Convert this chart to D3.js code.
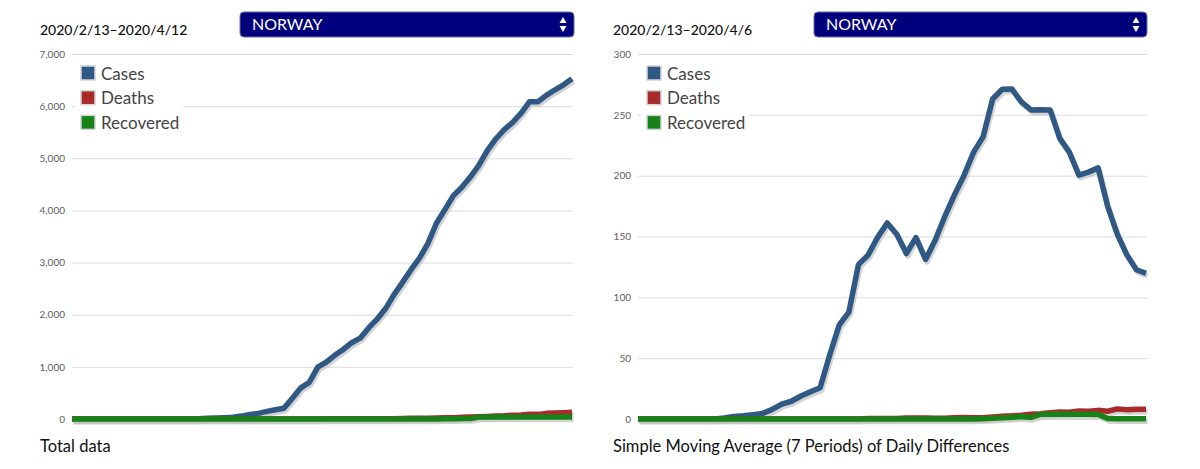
<!DOCTYPE html>
<html>
<head>
<meta charset="utf-8">
<script src="https://cdn.jsdelivr.net/npm/d3@7"></script>
<style>
  html, body { margin: 0; padding: 0; background: #fff; }
  svg { display: block; font-family: Lato, "Open Sans", sans-serif; }
</style>
</head>
<body>
<script>
const SERIES = ['Cases', 'Deaths', 'Recovered'];
const COLORS = ['#2f5884', '#a82a2a', '#178217'];

// cumulative totals, 2020/2/13 .. 2020/4/12
const totalCases = [0, 0, 0, 0, 0, 0, 0, 0, 0, 0, 0, 0, 0,
  1, 1, 6, 15, 19, 25, 32, 56, 87, 108, 147, 176, 205, 400, 598, 702, 996,
  1090, 1221, 1333, 1463, 1550, 1746, 1914, 2118, 2385, 2621, 2863, 3084,
  3369, 3755, 4015, 4284, 4445, 4641, 4863, 5147, 5370, 5550, 5687, 5865,
  6086, 6086, 6211, 6314, 6409, 6525];
const totalDeaths = [0, 0, 0, 0, 0, 0, 0, 0, 0, 0, 0, 0, 0, 0, 0, 0, 0, 0,
  0, 0, 0, 0, 0, 0, 0, 0, 0, 0,
  1, 1, 3, 3, 3, 3, 6, 7, 7, 7, 7, 10, 12, 14, 14, 19, 23, 25, 32, 39, 44,
  50, 59, 62, 71, 76, 89, 89, 108, 113, 119, 128];
const totalRecovered = [0, 0, 0, 0, 0, 0, 0, 0, 0, 0, 0, 0, 0, 0, 0, 0, 0,
  0, 0, 0, 0, 0, 0, 0, 0, 0, 0, 0, 0, 0, 0, 0, 0, 0, 0, 0, 0, 0, 0, 0, 0, 0,
  1, 2, 4, 7, 10, 9, 36, 36, 36, 36, 36, 36, 36, 36, 37, 37, 38, 38];

// 7 period moving average of daily differences
const smaCases = [0, 0, 0, 0, 0, 0, 0, 0.1, 0.1, 0.9, 2.1, 2.7, 3.6, 4.6,
  7.9, 12.3, 14.6, 18.9, 22.4, 25.7, 52.6, 77.4, 87.9, 126.9, 134.7, 149.3,
  161.1, 151.9, 136, 149.1, 131.1, 146.9, 166.3, 184, 200, 219.1, 231.9, 263,
  271, 271.3, 260.6, 254, 254.1, 254, 230.7, 219.3, 200.4, 202.9, 206.4,
  174.7, 152, 134.9, 122.7, 119.7];
const smaDeaths = [0, 0, 0, 0, 0, 0, 0, 0, 0, 0, 0, 0, 0, 0, 0, 0, 0, 0, 0,
  0, 0, 0,
  0.1, 0.1, 0.4, 0.4, 0.4, 0.4, 0.9, 0.9, 0.9, 0.6, 0.6, 1, 1.3, 1.1, 1, 1.7,
  2.3, 2.6, 3.1, 3.9, 4.3, 5.1, 5.7, 5.6, 6.6, 6.3, 7.1, 6.4, 8.3, 7.7, 8.1,
  8.1];
const smaRecovered = [0, 0, 0, 0, 0, 0, 0, 0, 0, 0, 0, 0, 0, 0, 0, 0, 0, 0,
  0, 0, 0, 0, 0, 0, 0, 0, 0, 0, 0, 0, 0, 0, 0, 0, 0, 0,
  0.3, 0.6, 1.0, 1.4, 2.0, 1.3, 3.9, 4.0, 4.1, 4.0, 4.0, 3.9, 3.8, 0.4, 0.3,
  0.3, 0.3, 0.3];

const totalTicks = [0, 1000, 2000, 3000, 4000, 5000, 6000, 7000];
const smaTicks = [0, 50, 100, 150, 200, 250, 300];

const svg = d3.select('body').append('svg')
              .attr('width', 1200)
              .attr('height', 469);

drawPanel({
  left: 72, right: 572, textX: 40,
  period: '2020/2/13\u20132020/4/12',
  caption: 'Total data',
  selectX: 240, selectW: 334,
  ticks: totalTicks, yMax: 7000,
  series: [totalCases, totalDeaths, totalRecovered]
});

drawPanel({
  left: 638, right: 1146, textX: 613,
  period: '2020/2/13\u20132020/4/6',
  caption: 'Simple Moving Average (7 Periods) of Daily Differences',
  selectX: 814, selectW: 333,
  ticks: smaTicks, yMax: 300,
  series: [smaCases, smaDeaths, smaRecovered]
});

function drawPanel(cfg) {
  let top = 54, bottom = 419;
  let g = svg.append('g');

  let x = d3.scaleLinear()
            .domain([0, cfg.series[0].length - 1])
            .range([cfg.left, cfg.right]);
  let y = d3.scaleLinear()
            .domain([0, cfg.yMax])
            .range([bottom, top]);

  // grid + tick labels
  let axis = d3.axisLeft(y)
               .tickValues(cfg.ticks)
               .tickFormat(d3.format(','))
               .tickSize(-(cfg.right - cfg.left + 1))
               .tickPadding(7);
  let ax = g.append('g')
            .attr('transform', 'translate(' + cfg.left + ',0)')
            .call(axis);
  ax.select('.domain').remove();
  ax.selectAll('line').attr('stroke', '#dcdcdc');
  ax.selectAll('text').attr('fill', '#5e5e5e').style('font-size', '10px')
    .style('font-family', 'Lato, sans-serif');

  // legend box hides the grid behind it
  g.append('rect')
   .attr('x', cfg.left + 3).attr('y', 58)
   .attr('width', 108).attr('height', 80)
   .attr('fill', '#fff');

  let line = d3.line()
               .x((d, i) => x(i))
               .y(d => y(d));

  cfg.series.forEach((data, k) => {
    g.append('path')
     .datum(data)
     .attr('d', line)
     .attr('fill', 'none')
     .attr('stroke', '#c4c4c4')
     .attr('stroke-opacity', 0.75)
     .attr('stroke-width', 5.5)
     .attr('stroke-linejoin', 'round')
     .attr('transform', 'translate(1.5,2.5)');
    g.append('path')
     .datum(data)
     .attr('d', line)
     .attr('fill', 'none')
     .attr('stroke', COLORS[k])
     .attr('stroke-width', 5.5)
     .attr('stroke-linejoin', 'round');
  });

  // legend
  let lg = g.append('g')
            .attr('transform', 'translate(' + (cfg.left + 9) + ',66)');
  SERIES.forEach((name, k) => {
    lg.append('rect')
      .attr('x', 0).attr('y', k * 24.7)
      .attr('width', 14).attr('height', 14)
      .attr('fill', COLORS[k])
      .attr('stroke', '#d4d4d4').attr('stroke-width', 1.5);
    lg.append('text')
      .attr('x', 20).attr('y', k * 24.7 + 13.5)
      .attr('fill', '#444')
      .style('font-size', '17px')
      .text(name);
  });

  // period + caption
  g.append('text')
   .attr('x', cfg.textX).attr('y', 35)
   .attr('fill', '#111')
   .style('font-size', '14px')
   .style('font-weight', 500)
   .text(cfg.period);
  g.append('text')
   .attr('x', cfg.textX).attr('y', 452)
   .attr('fill', '#111')
   .style('font-size', '16.5px')
   .text(cfg.caption);

  // country select
  let sel = g.append('g')
             .attr('transform', 'translate(' + cfg.selectX + ',12)');
  sel.append('rect')
     .attr('width', cfg.selectW).attr('height', 25)
     .attr('rx', 4)
     .attr('fill', '#00007c')
     .attr('stroke', '#6a6aa8').attr('stroke-width', 1);
  sel.append('text')
     .attr('x', 12).attr('y', 18)
     .attr('fill', '#fff')
     .style('font-size', '16px')
     .text('NORWAY');
  let ax0 = cfg.selectW - 11;
  sel.append('path')
     .attr('d', 'M' + (ax0 - 3.5) + ',11 L' + ax0 + ',5 L' + (ax0 + 3.5) + ',11 Z' +
                'M' + (ax0 - 3.5) + ',14 L' + ax0 + ',20 L' + (ax0 + 3.5) + ',14 Z')
     .attr('fill', '#fff');
}
</script>
</body>
</html>
